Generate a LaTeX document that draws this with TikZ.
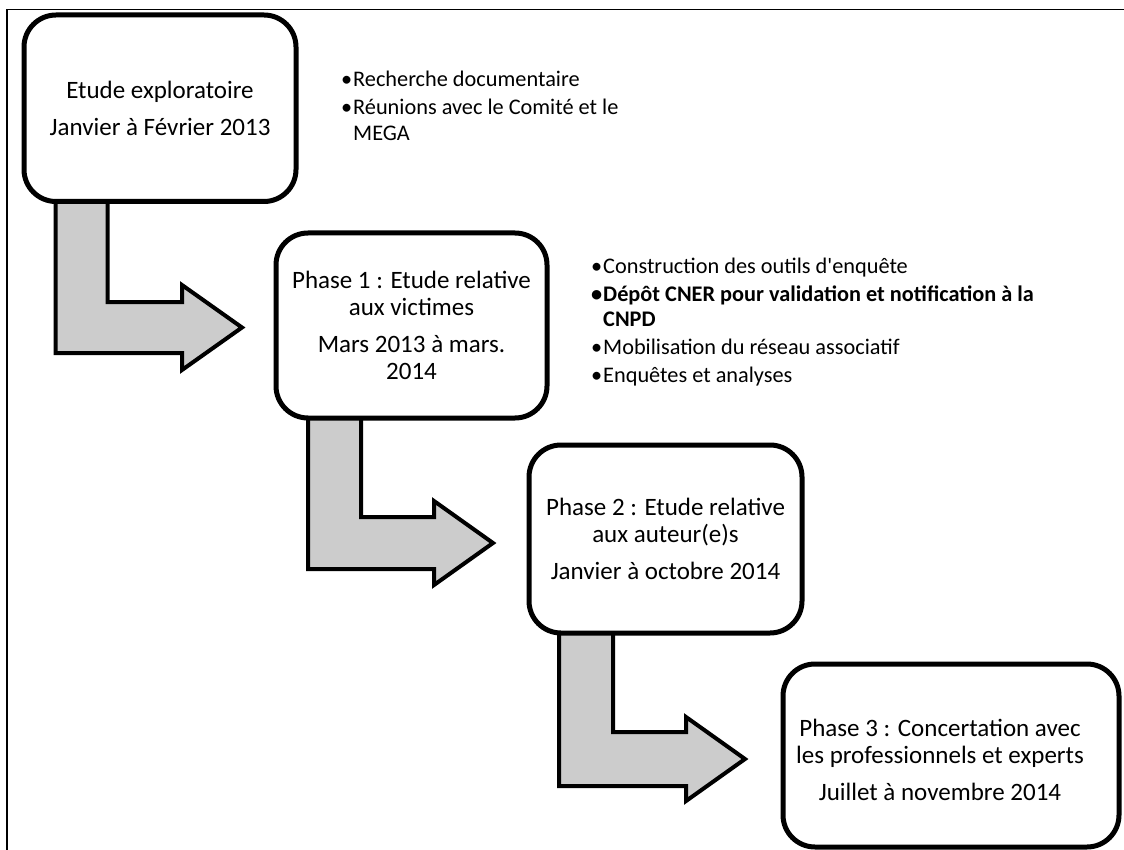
\documentclass[tikz,border=0pt]{standalone}
\usepackage{fontspec}
\setmainfont{Carlito}
\begin{document}
\begin{tikzpicture}[x=1pt,y=-1pt,
  box/.style={draw, line width=5pt, rounded corners=32pt, fill=white, inner sep=0pt,
    align=center, font=\fontsize{25}{27}\selectfont},
  blockarrow/.style={draw, line width=4pt, fill=black!20, line join=miter},
  bullets/.style={align=left, anchor=base west, inner sep=0pt,
    font=\fontsize{22.3}{25.5}\selectfont},
  frame/.style={draw, line width=1.5pt}
]
\newcommand{\bul}{\makebox[12pt][l]{\textbullet}}
\newcommand{\ind}{\hspace*{12pt}}
\useasboundingbox (0,0) rectangle (1124,850);
\fill[white] (0,0) rectangle (1124,850);
% frame
\draw[frame] (7,860) -- (7,9.5) -- (1130,9.5);

% block arrows
\draw[blockarrow] (55.5,190) -- (55.5,353) -- (182,353) -- (182,370) -- (242,327.5)
  -- (182,285) -- (182,302) -- (107.5,302) -- (107.5,190) -- cycle;
\draw[blockarrow] (308,410) -- (308,569) -- (434,569) -- (434,585) -- (493,543)
  -- (434,501) -- (434,517) -- (361,517) -- (361,410) -- cycle;
\draw[blockarrow] (559,625) -- (559,786) -- (686,786) -- (686,801) -- (745,759)
  -- (686,717) -- (686,732) -- (613,732) -- (613,625) -- cycle;

% boxes
\node[box, minimum width=272pt, minimum height=186.5pt] (b1) at (160,108.25)
  {Etude exploratoire\\[10pt]Janvier à Février 2013};
\node[box, minimum width=271pt, minimum height=185pt] (b2) at (411.5,325.5)
  {Phase 1 : Etude relative\\aux victimes\\[10pt]Mars 2013 à mars.\\2014};
\node[box, minimum width=273pt, minimum height=188pt] (b3) at (665.5,539)
  {Phase 2 : Etude relative\\aux auteur(e)s\\[10pt]Janvier à octobre 2014};
\node[box, minimum width=336pt, minimum height=183pt] (b4) at (951,755.5) {};
\node[align=center, inner sep=0pt, font=\fontsize{25}{27}\selectfont] (t4) at (940,760)
  {Phase 3 : Concertation avec\\les professionnels et experts\\[10pt]Juillet à novembre 2014};

% bullet lists (anchored at the baseline of their last line)
\node[bullets] (l1) at (341,140.5)
  {\bul Recherche documentaire\\[2.5pt]
   \bul Réunions avec le Comité et le\\
   \ind MEGA};
\node[bullets] (l2) at (591,382.5)
  {\bul Construction des outils d\textquotesingle enquête\\[2.5pt]
   \textbf{\bul Dépôt CNER pour validation et notification à la}\\
   \ind\textbf{CNPD}\\[2.5pt]
   \bul Mobilisation du réseau associatif\\[2.5pt]
   \bul Enquêtes et analyses};
\end{tikzpicture}
\end{document}
